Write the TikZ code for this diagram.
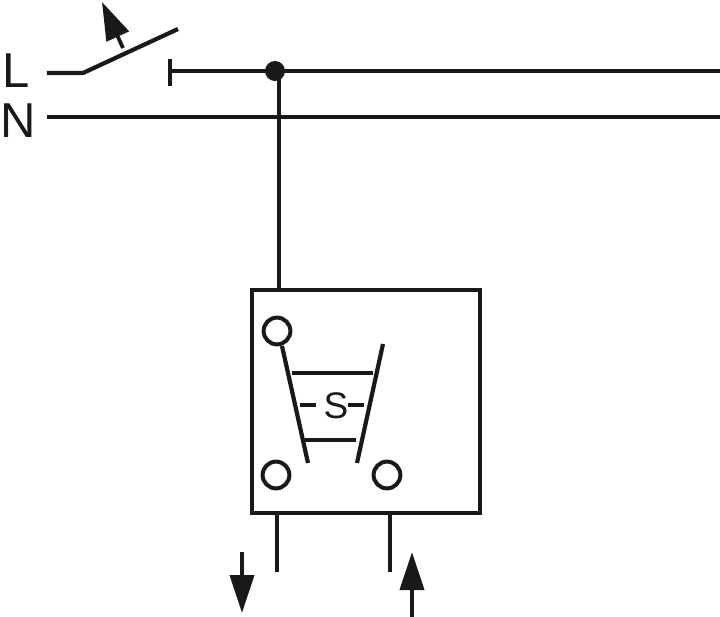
\documentclass[tikz,border=0pt]{standalone}
\usepackage{fontspec}
\setmainfont{Liberation Sans}
\usetikzlibrary{arrows.meta}
\tikzset{%
  wire/.style={draw=black!90,line width=2.1pt},
  jdot/.style={draw=none,shape=circle,fill=black!90,minimum size=10pt,inner sep=0},
  tdot/.style={draw=black!90,shape=circle,fill=white,line width=2pt,minimum size=13.4pt,inner sep=0},
  lbl/.style={text=black!90,inner sep=0,font=\fontsize{24.5}{24.5}\selectfont},
  flow/.style={wire,line width=1.9pt,-{Triangle[length=19pt,width=12pt]}}
}

\begin{document}
\begin{tikzpicture}[x=0.5pt,y=-0.5pt]
    \useasboundingbox (0,0) rectangle (720,617);
    \path
      (16,70.5) node (l)[lbl]{L}
      (18,120.5) node (n)[lbl]{N}
      (47,73) coordinate (lin)
      (83,73) coordinate (pivot)
      (178,29) coordinate (blade)
      (170,59) coordinate (bart)
      (170,86) coordinate (barb)
      (170,71) coordinate (lcon)
      (720,71) coordinate (lout)
      (47,117) coordinate (nin)
      (720,117) coordinate (nout)
      (123,48) coordinate (pusha)
      (102,2) coordinate (pushb)
      (275,71) coordinate (jn)
      (279,71) coordinate (dropa)
      (279,289) coordinate (dropb);
    \draw[wire] (lin) -- (pivot) -- (blade);
    \draw[wire] (bart) -- (barb);
    \draw[wire] (lcon) -- (lout);
    \draw[wire] (nin) -- (nout);
    \draw[wire] (dropa) -- (dropb);
    \node (j)[jdot] at (jn) {};
    \draw[flow] (pusha) -- (pushb);
    % switch box
    \draw[wire] (252,290) rectangle (480,513);
    \path
      (277,331) node (ta)[tdot]{}
      (276,475) node (tb)[tdot]{}
      (387,475) node (tc)[tdot]{}
      (336,406) node (s)[lbl,font=\fontsize{18.5}{18.5}\selectfont]{S}
      (282,346) coordinate (lt)
      (308,463) coordinate (lb)
      (383,344) coordinate (rt)
      (357,463) coordinate (rb)
      (292,373) coordinate (ua)
      (373,373) coordinate (ub)
      (305,440) coordinate (da)
      (356,440) coordinate (db)
      (300,405) coordinate (ma)
      (316,405) coordinate (mb)
      (348,405) coordinate (mc)
      (364,405) coordinate (md);
    \draw[wire] (lt) -- (lb);
    \draw[wire] (rt) -- (rb);
    \draw[wire] (ua) -- (ub);
    \draw[wire] (da) -- (db);
    \draw[wire] (ma) -- (mb);
    \draw[wire] (mc) -- (md);
    % outputs
    \path
      (277,513) coordinate (oa)
      (277,572) coordinate (ob)
      (390,513) coordinate (oc)
      (390,572) coordinate (od)
      (242,552) coordinate (fa)
      (242,613) coordinate (fb)
      (412,617) coordinate (fc)
      (412,552) coordinate (fd);
    \draw[wire] (oa) -- (ob);
    \draw[wire] (oc) -- (od);
    \draw[flow] (fa) -- (fb);
    \draw[flow] (fc) -- (fd);
  \end{tikzpicture}
\end{document}
